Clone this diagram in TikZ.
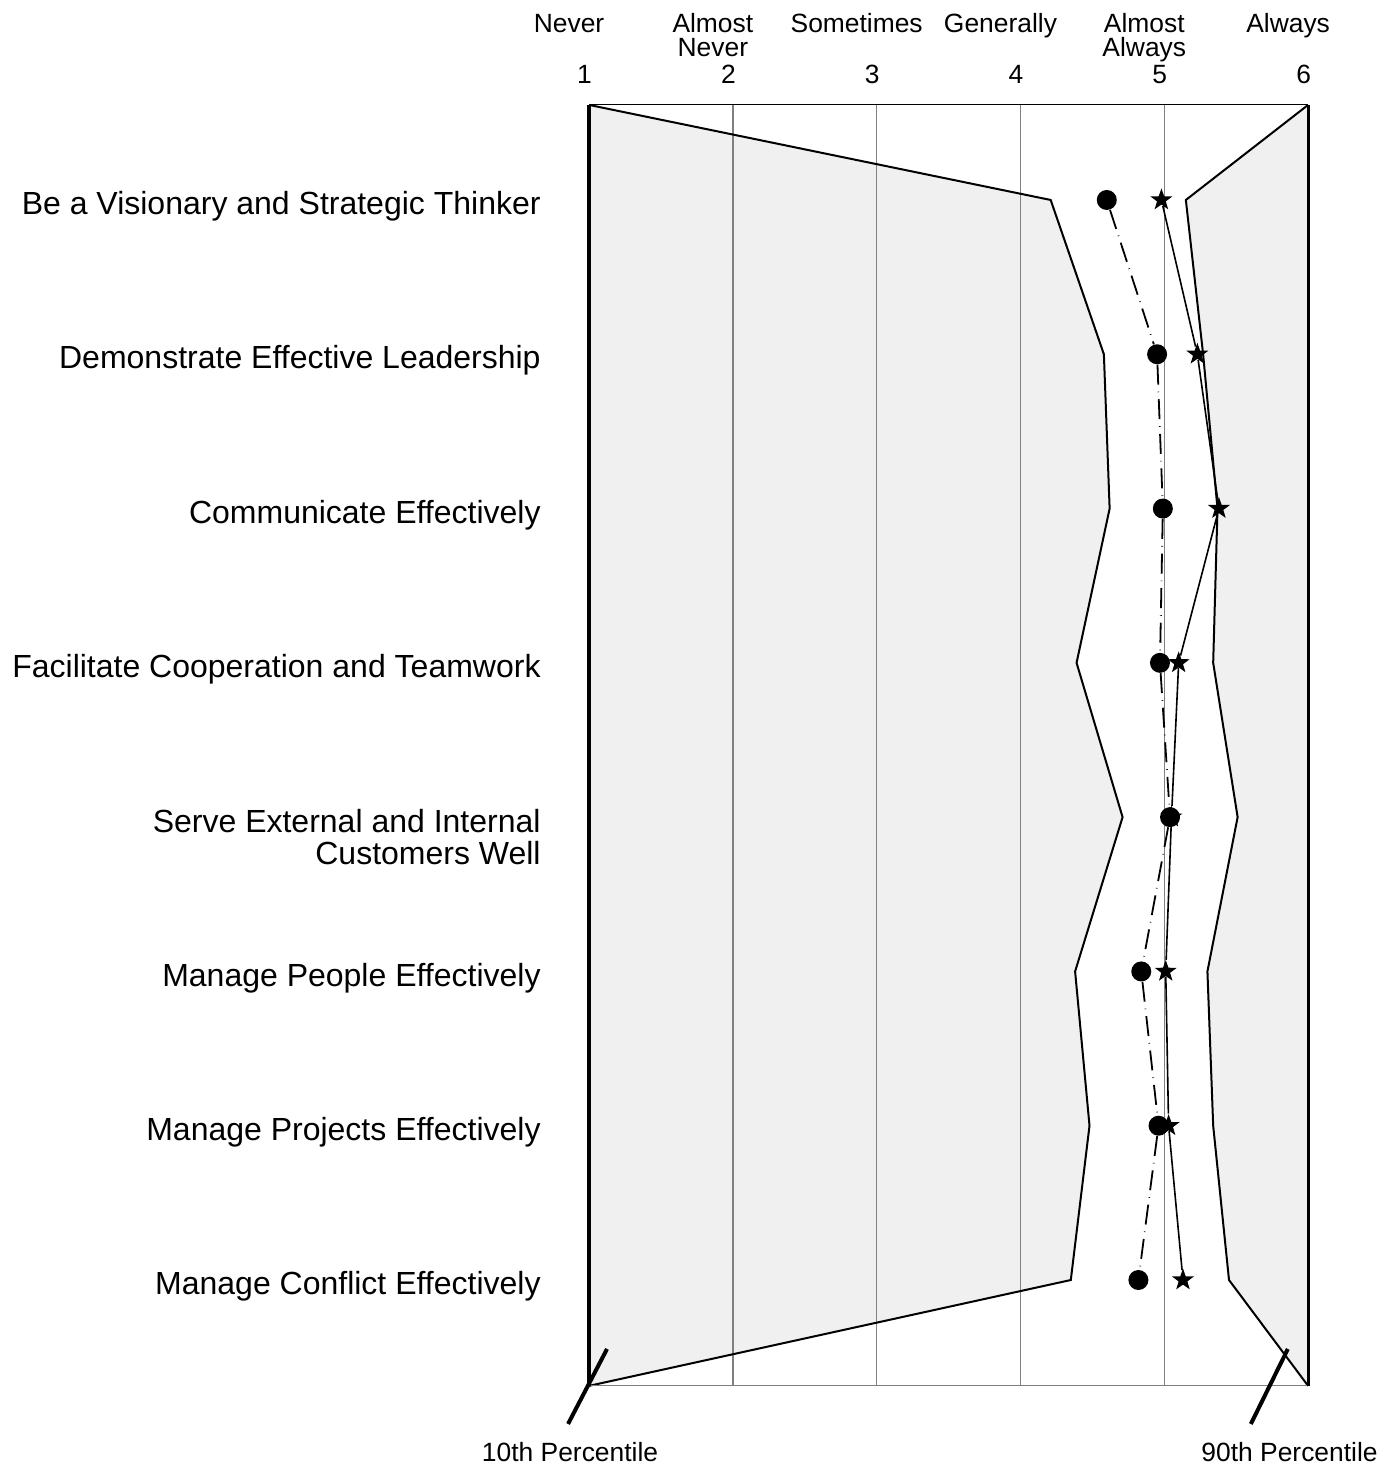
\documentclass[tikz,border=0pt]{standalone}
\usepackage{fontspec}
\setmainfont{Liberation Sans}
\usetikzlibrary{shapes.geometric}
\definecolor{bandgray}{RGB}{240,240,240}

\begin{document}
\begin{tikzpicture}[x=71.9pt, y=-77.14pt,
    ratingdot/.style={circle, fill=black, inner sep=0pt, minimum size=10pt},
    ratingstar/.style={star, star points=5, star point ratio=2.5, fill=black, inner sep=0pt, minimum size=11.5pt},
    scalelabel/.style={font=\fontsize{13.2}{12}\selectfont, inner sep=0pt, align=center},
    itemlabel/.style={font=\fontsize{16}{16}\selectfont, inner sep=0pt, align=right}]
  \useasboundingbox (-3.096,-0.296) rectangle (6.598,9.212);
  % Shade the bands outside the 10th and 90th percentile.
  \fill[bandgray] (1,0.384) -- (4.21,1) -- (4.58,2) -- (4.62,3) -- (4.39,4) -- (4.71,5)
    -- (4.38,6) -- (4.48,7) -- (4.35,8) -- (1,8.686) -- cycle;
  \fill[bandgray] (6,0.384) -- (5.15,1) -- (5.27,2) -- (5.37,3) -- (5.34,4) -- (5.51,5)
    -- (5.30,6) -- (5.34,7) -- (5.45,8) -- (6,8.686) -- cycle;
  % Grid lines at the scale points.
  \foreach \g in {2,...,5}
    \draw[gray, line width=0.7pt] (\g,0.384) -- (\g,8.686);
  % Outline of the percentile bands.
  \draw[line width=1pt] (1,0.384) -- (4.21,1) -- (4.58,2) -- (4.62,3) -- (4.39,4) -- (4.71,5)
    -- (4.38,6) -- (4.48,7) -- (4.35,8) -- (1,8.686);
  \draw[line width=1pt] (6,0.384) -- (5.15,1) -- (5.27,2) -- (5.37,3) -- (5.34,4) -- (5.51,5)
    -- (5.30,6) -- (5.34,7) -- (5.45,8) -- (6,8.686);
  % Frame of the chart.
  \draw[line width=0.5pt] (1,0.384) -- (6,0.384);
  \draw[gray, line width=0.6pt] (1,8.686) -- (6,8.686);
  \draw[line width=1.6pt] (1,0.384) -- (1,8.686);
  \draw[line width=1.6pt] (6,0.384) -- (6,8.686);

  % Scale words and numbers across the top.
  \foreach \g/\word in {1/Never, 2/{Almost\\Never}, 3/Sometimes, 4/Generally, 5/{Almost\\Always}, 6/Always}
    \node[scalelabel, anchor=north] (word\g) at (\g-0.139,-0.215) {\vphantom{Al}\word};
  \foreach \g in {1,...,6}
    \node[scalelabel, anchor=base] (num\g) at (\g-0.031,0.245) {\g};

  % Competency names on the left.
  \foreach \r/\item in {1/Be a Visionary and Strategic Thinker, 2/Demonstrate Effective Leadership,
      3/Communicate Effectively, 4/Facilitate Cooperation and Teamwork, 6/Manage People Effectively,
      7/Manage Projects Effectively, 8/Manage Conflict Effectively}
    \node[itemlabel, anchor=base east] (item\r) at (0.666,\r+0.095) {\item};
  \node[itemlabel, anchor=north east] (item5) at (0.666,4.944) {Serve External and Internal\\Customers Well};

  % Ratings: stars first, dots on top.
  \foreach \r/\s in {1/4.98, 2/5.23, 3/5.38, 4/5.10, 5/5.05, 6/5.01, 7/5.03, 8/5.13}
    \node[ratingstar] (star\r) at (\s,\r) {};
  \foreach \r/\d in {1/4.60, 2/4.95, 3/4.99, 4/4.97, 5/5.04, 6/4.84, 7/4.96, 8/4.82}
    \node[ratingdot] (dot\r) at (\d,\r) {};
  \draw[line width=0.8pt] (star1) -- (star2) -- (star3) -- (star4) -- (star5) -- (star6) -- (star7) -- (star8);
  \draw[line width=0.9pt, dash pattern=on 10pt off 3.5pt on 0.3pt off 3.5pt]
    (dot1) -- (dot2) -- (dot3) -- (dot4) -- (dot5) -- (dot6) -- (dot7) -- (dot8);

  % Percentile captions and their pointers.
  \node[scalelabel] (low) at (0.868,9.115) {10th Percentile};
  \node[scalelabel] (high) at (5.871,9.115) {90th Percentile};
  \coordinate (lowtip) at (1.125,8.447);
  \coordinate (hightip) at (5.859,8.447);
  \draw[line width=2pt] (0.854,8.933) -- (lowtip);
  \draw[line width=2pt] (5.602,8.933) -- (hightip);
\end{tikzpicture}
\end{document}
